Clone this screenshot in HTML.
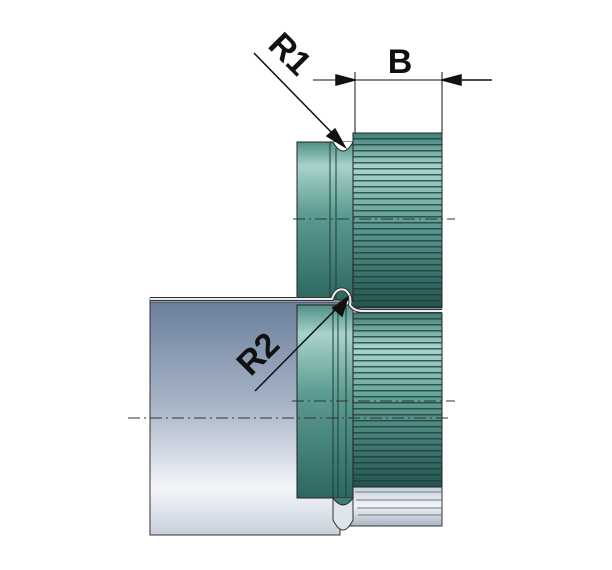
<!DOCTYPE html>
<html><head><style>body{margin:0;background:#fff}svg{display:block}</style></head><body>
<svg width="612" height="570" viewBox="0 0 612 570" xmlns="http://www.w3.org/2000/svg">
<defs>
<linearGradient id="sh" x1="0" y1="0" x2="0" y2="1">
<stop offset="0" stop-color="#6a7f9c"/><stop offset="0.45" stop-color="#a9b5c8"/><stop offset="0.8" stop-color="#f4f6f9"/><stop offset="1" stop-color="#c9d0dc"/></linearGradient>
<linearGradient id="rg" x1="0" y1="0" x2="0" y2="1">
<stop offset="0" stop-color="#4f8f86"/><stop offset="0.15" stop-color="#a8d3cb"/><stop offset="0.45" stop-color="#5e9d93"/><stop offset="1" stop-color="#2d6760"/></linearGradient>
<linearGradient id="kn" x1="0" y1="0" x2="0" y2="1">
<stop offset="0" stop-color="#3f7f76"/><stop offset="0.2" stop-color="#a9d6ce"/><stop offset="0.5" stop-color="#5f9f95"/><stop offset="1" stop-color="#24544f"/></linearGradient>
<linearGradient id="bt" x1="0" y1="0" x2="0" y2="1">
<stop offset="0" stop-color="#c5ced9"/><stop offset="0.5" stop-color="#f2f4f7"/><stop offset="1" stop-color="#aab4c2"/></linearGradient>
<pattern id="st" width="10" height="6" patternUnits="userSpaceOnUse"><rect width="10" height="1.5" fill="#1d3f3b" opacity="0.8"/></pattern>
</defs>
<rect x="150" y="301" width="190" height="234" fill="url(#sh)" stroke="#333" stroke-width="1"/>
<rect x="150" y="298" width="190" height="4" fill="#dde3ea" stroke="#333" stroke-width="0.8"/>
<rect x="340" y="486" width="102" height="40" fill="url(#bt)" stroke="#333" stroke-width="1"/>
<path d="M355 492 H442 M356 500 H442 M357 508 H442 M358 515 H442" stroke="#6c7888" stroke-width="1"/>
<path d="M333 490 V520 Q343 540 353 520 V490 Z" fill="#dfe5ec" stroke="#333"/>
<rect x="353" y="133" width="89" height="175" fill="url(#kn)" stroke="#222" stroke-width="1"/>
<rect x="353" y="133" width="89" height="175" fill="url(#st)"/>
<rect x="353" y="313" width="89" height="174" fill="url(#kn)" stroke="#222" stroke-width="1"/>
<rect x="353" y="313" width="89" height="174" fill="url(#st)"/>
<rect x="297" y="142" width="56" height="158" fill="url(#rg)" stroke="#222" stroke-width="1"/>
<path d="M330 142 V300 M336 148 V300" stroke="#1e3c39" stroke-width="1"/>
<path d="M333 142 Q343 160 353 142" fill="#fff" stroke="#222"/>
<rect x="297" y="305" width="56" height="193" fill="url(#rg)" stroke="#222" stroke-width="1"/>
<path d="M333 305 V498 M338 305 V500 M346 305 V500" stroke="#1e3c39" stroke-width="1"/>
<path d="M333 498 Q343 512 353 498" fill="#3d7b73" stroke="#222"/>
<path d="M150 299 H332 Q336 287 345 290 Q352 295 350 305 Q354 311 362 311 H442" fill="none" stroke="#333" stroke-width="4"/>
<path d="M150 299 H332 Q336 287 345 290 Q352 295 350 305 Q354 311 362 311 H442" fill="none" stroke="#e8ecef" stroke-width="2"/>
<g stroke="#333" stroke-width="1" stroke-dasharray="12,4,2,4">
<line x1="293" y1="219" x2="455" y2="219"/>
<line x1="292" y1="401" x2="455" y2="401"/>
<line x1="128" y1="418" x2="452" y2="418"/>
</g>
<g stroke="#111" stroke-width="1.5" fill="#111">
<line x1="355" y1="72" x2="355" y2="133" stroke-width="1"/>
<line x1="442" y1="72" x2="442" y2="133" stroke-width="1"/>
<line x1="313" y1="80" x2="442" y2="80" stroke-width="1"/>
<line x1="442" y1="80" x2="492" y2="80"/>
<path d="M355 80 L336 75 L336 85 Z"/>
<path d="M442 80 L461 75 L461 85 Z"/>
<line x1="254" y1="53" x2="335" y2="136"/>
<path d="M345 147 L327 136 L335 129 Z"/>
<line x1="255" y1="391" x2="338" y2="307"/>
<path d="M348 297 L342 316 L333 308 Z"/>
</g>
<text x="400" y="73" font-family="Liberation Sans, sans-serif" font-weight="bold" font-size="34" text-anchor="middle" fill="#111">B</text>
<text transform="translate(282,62) rotate(45)" font-family="Liberation Sans, sans-serif" font-weight="bold" font-size="34" text-anchor="middle" fill="#111">R1</text>
<text transform="translate(266,362) rotate(-45)" font-family="Liberation Sans, sans-serif" font-weight="bold" font-size="34" text-anchor="middle" fill="#111">R2</text>
</svg>
</body></html>
